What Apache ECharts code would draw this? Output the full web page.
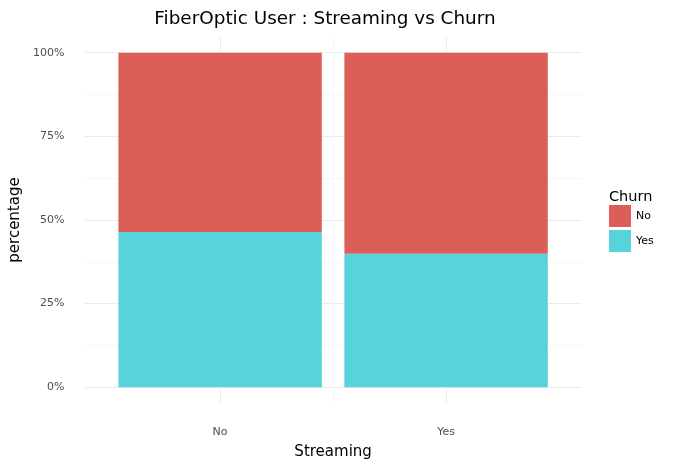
<!DOCTYPE html>
<html><head><meta charset="utf-8">
<script src="https://cdn.jsdelivr.net/npm/echarts@6/dist/echarts.min.js"></script>
<style>html,body{margin:0;padding:0;background:#fff}#c{width:681px;height:469px}</style>
</head><body><div id="c"></div>
<script>
const categories = ['No', 'Yes'];
const churnYes = [46.4, 39.9];
const churnNo = [53.6, 60.1];
const yTicks = [0, 12.5, 25, 37.5, 50, 62.5, 75, 87.5, 100];
const yLabels = [0, 25, 50, 75, 100];
const xTicks = [1, 1.5, 2];

const xPos = categories.map((c, i) => i + 1);
const font = 'DejaVu Sans';
const chart = echarts.init(document.getElementById('c'));
chart.setOption({
  animation: false,
  backgroundColor: '#fff',
  textStyle: { fontFamily: font },
  title: [
    { text: 'FiberOptic User : Streaming vs Churn', left: 325, top: 10, textAlign: 'center', padding: 0,
      textStyle: { fontFamily: font, fontSize: 18.4, fontWeight: 'normal', color: '#000' } },
    { text: 'Churn', left: 609, top: 190, padding: 0,
      textStyle: { fontFamily: font, fontSize: 14.5, fontWeight: 'normal', color: '#000' } }
  ],
  legend: {
    data: ['No', 'Yes'], orient: 'vertical', left: 609, top: 205, padding: 0,
    itemWidth: 22, itemHeight: 22, itemGap: 3, icon: 'rect',
    textStyle: { fontFamily: font, fontSize: 11, color: '#000' },
    selectedMode: false
  },
  grid: [
    { left: 84.5, right: 99.3, top: 36, bottom: 65, containLabel: false, outerBoundsMode: 'none' },
    { left: 107.1, right: 121.9, top: 36, bottom: 65, containLabel: false, outerBoundsMode: 'none' }
  ],
  xAxis: [{
    type: 'value', min: 0.4, max: 2.6, gridIndex: 0,
    name: 'Streaming', nameLocation: 'middle', nameGap: 41,
    nameTextStyle: { fontFamily: font, fontSize: 15, color: '#000' },
    axisLine: { show: false },
    axisTick: { show: false, customValues: xTicks },
    axisLabel: { customValues: xPos, margin: 23, fontFamily: font, fontSize: 11, color: '#4d4d4d',
      formatter: v => categories[Math.round(v) - 1] || '' },
    splitLine: { show: true, lineStyle: { color: ['#ebebeb', '#f6f6f6'], width: 1 } }
  }, {
    type: 'category', data: categories, gridIndex: 1, boundaryGap: true,
    axisLine: { show: false }, axisTick: { show: false }, axisLabel: { show: false }, splitLine: { show: false }
  }],
  yAxis: [{
    type: 'value', min: -5, max: 105, gridIndex: 0,
    name: 'percentage', nameLocation: 'middle', nameGap: 56,
    nameTextStyle: { fontFamily: font, fontSize: 15, color: '#000' },
    axisLine: { show: false },
    axisTick: { show: false, customValues: yTicks },
    axisLabel: { customValues: yLabels, margin: 20, fontFamily: font, fontSize: 11, color: '#4d4d4d',
      formatter: v => v + '%' },
    splitLine: { show: true, lineStyle: { color: ['#ebebeb', '#f6f6f6'], width: 1 } }
  }, {
    type: 'value', min: -5, max: 105, gridIndex: 1,
    axisLine: { show: false }, axisTick: { show: false }, axisLabel: { show: false }, splitLine: { show: false }
  }],
  series: [
    { name: 'Yes', type: 'bar', stack: 's', barWidth: '90%', xAxisIndex: 1, yAxisIndex: 1,
      itemStyle: { color: '#57d3db' }, data: churnYes },
    { name: 'No', type: 'bar', stack: 's', barWidth: '90%', xAxisIndex: 1, yAxisIndex: 1,
      itemStyle: { color: '#db5f57' }, data: churnNo }
  ]
});
</script></body></html>
